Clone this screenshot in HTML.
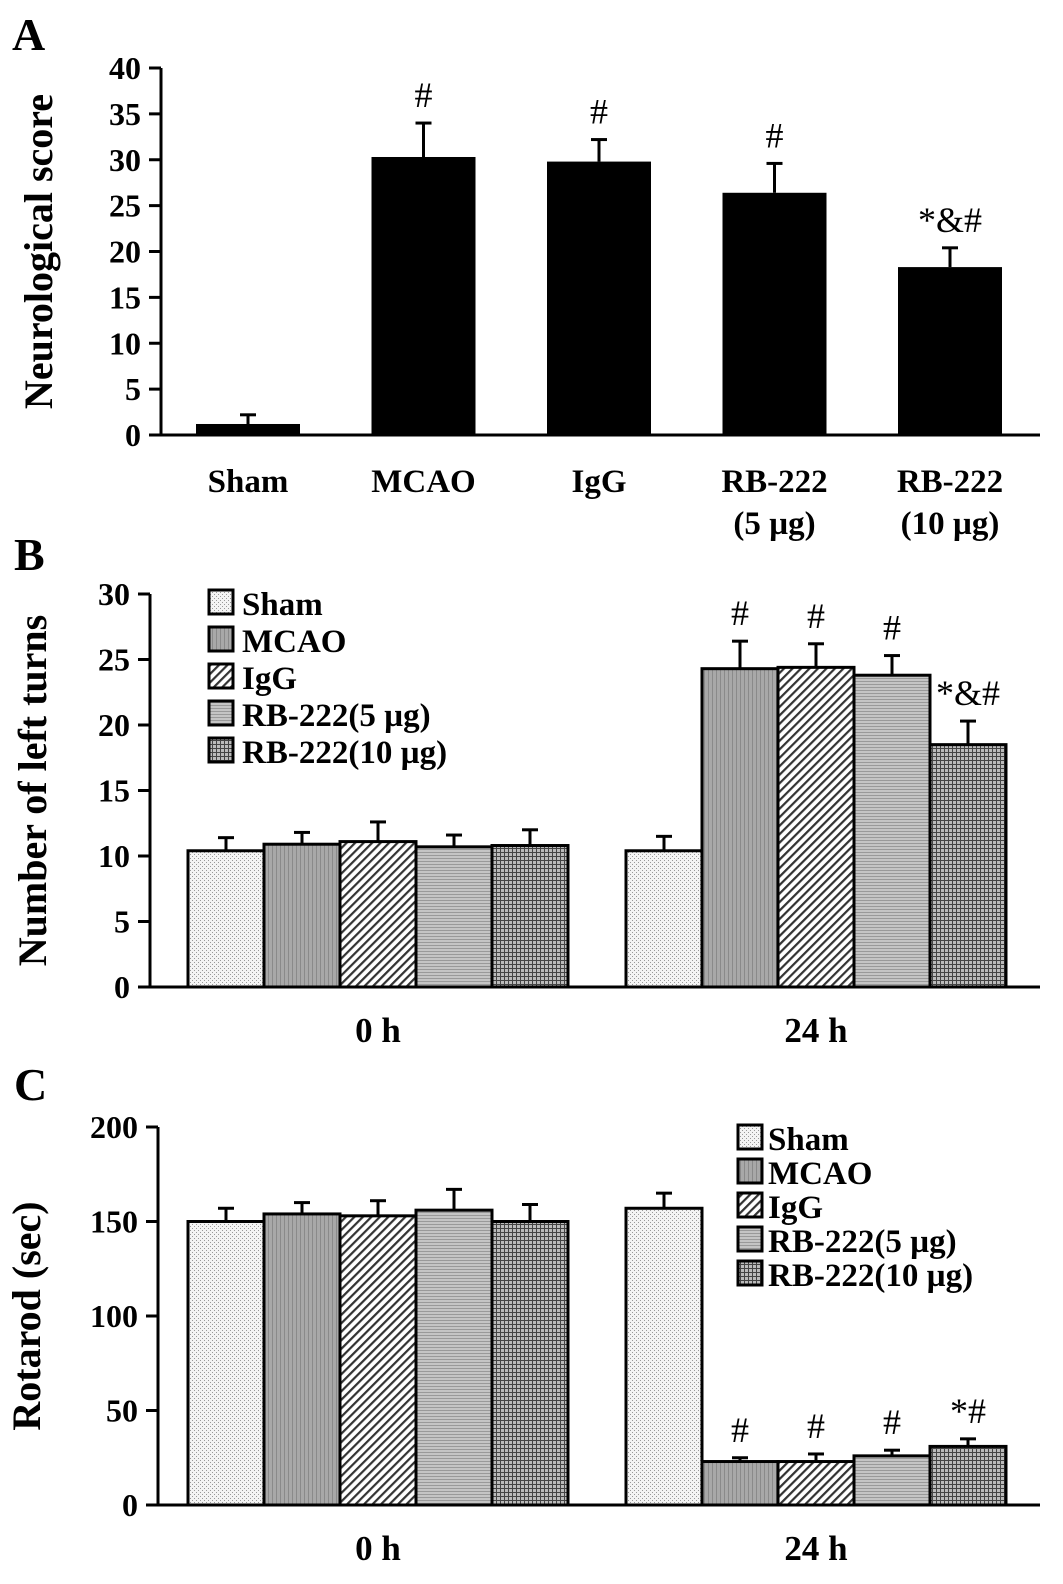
<!DOCTYPE html>
<html><head><meta charset="utf-8"><style>
html,body{margin:0;padding:0;background:#fff;}
svg{display:block;font-family:"Liberation Serif",serif;font-weight:bold;}
</style></head><body>
<svg id="fig" width="1063" height="1584" viewBox="0 0 1063 1584" xmlns="http://www.w3.org/2000/svg">
<defs>
<pattern id="pSham" width="4" height="4" patternUnits="userSpaceOnUse"><rect width="4" height="4" fill="#f4f4f4"/><rect x="0" y="0" width="1" height="1" fill="#999"/><rect x="2" y="2" width="1" height="1" fill="#999"/></pattern>
<pattern id="pMcao" width="4" height="4" patternUnits="userSpaceOnUse"><rect width="4" height="4" fill="#a8a8a8"/><rect x="0" y="0" width="1" height="4" fill="#8a8a8a"/></pattern>
<pattern id="pIgg" width="6" height="6" patternUnits="userSpaceOnUse" patternTransform="rotate(45)"><rect width="6" height="6" fill="#fff"/><rect x="0" y="0" width="2.2" height="6" fill="#333"/></pattern>
<pattern id="pRb5" width="4" height="3" patternUnits="userSpaceOnUse"><rect width="4" height="3" fill="#c4c4c4"/><rect x="0" y="0" width="4" height="1" fill="#999"/></pattern>
<pattern id="pRb10" width="4" height="4" patternUnits="userSpaceOnUse"><rect width="4" height="4" fill="#bbb"/><rect x="0" y="0" width="4" height="1" fill="#444"/><rect x="0" y="0" width="1" height="4" fill="#444"/></pattern>
</defs>
<g id="root"></g>
</svg>
<script>
// Panel A data
const catsA = ["Sham","MCAO","IgG","RB-222|(5 µg)","RB-222|(10 µg)"];
const valsA = [1.2, 30.3, 29.8, 26.4, 18.3];
const errA = [1.0, 3.7, 2.4, 3.2, 2.1];
const sigA = ["", "#", "#", "#", "*&#"];
const ticksA = [0,5,10,15,20,25,30,35,40];
// Panel B data
const groupsB = ["0 h","24 h"];
const seriesNames = ["Sham","MCAO","IgG","RB-222(5 µg)","RB-222(10 µg)"];
const valsB0 = [10.4, 10.9, 11.1, 10.7, 10.8];
const errB0 = [1.0, 0.9, 1.5, 0.9, 1.2];
const valsB24 = [10.4, 24.3, 24.4, 23.8, 18.5];
const errB24 = [1.1, 2.1, 1.8, 1.5, 1.8];
const sigB24 = ["", "#", "#", "#", "*&#"];
const ticksB = [0,5,10,15,20,25,30];
// Panel C data
const valsC0 = [150, 154, 153, 156, 150];
const errC0 = [7, 6, 8, 11, 9];
const valsC24 = [157, 23, 23, 26, 31];
const errC24 = [8, 2, 4, 3, 4];
const sigC24 = ["", "#", "#", "#", "*#"];
const ticksC = [0,50,100,150,200];

const NS="http://www.w3.org/2000/svg";
const root=document.getElementById('root');
const fills=["url(#pSham)","url(#pMcao)","url(#pIgg)","url(#pRb5)","url(#pRb10)"];
function mk(tag,attrs,parent,text){const e=document.createElementNS(NS,tag);for(const k in attrs)e.setAttribute(k,attrs[k]);if(text!==undefined)e.textContent=text;(parent||root).appendChild(e);return e;}
function line(x1,y1,x2,y2,w){return mk('line',{x1,y1,x2,y2,stroke:'#000','stroke-width':w||3});}

function axis(x0,y0,y1,xEnd,ticks,maxV,title,titleX,fs){
  const sy=v=>y0-(v/maxV)*(y0-y1);
  const g=mk('g',{});
  
  
  mk('line',{x1:x0,y1:y0,x2:x0,y2:y1,stroke:'#000','stroke-width':3},g);
  mk('line',{x1:x0-12,y1:y0,x2:xEnd,y2:y0,stroke:'#000','stroke-width':3},g);
  ticks.forEach(t=>{
    mk('line',{x1:x0-12,y1:sy(t),x2:x0,y2:sy(t),stroke:'#000','stroke-width':3},g);
    const tx=mk('text',{x:x0-20,y:sy(t)+11,'text-anchor':'end','font-size':fs||32},g,String(t));
    
    
  });
  const tt=mk('text',{x:0,y:0,'text-anchor':'middle','font-size':40,transform:`translate(${titleX},${(y0+y1)/2}) rotate(-90)`},root,title);
  
  
  return sy;
}
function bar(x,w,v,e,sy,fill,name,sig){
  const y=sy(v), ye=sy(v+e);
  line(x+w/2,y,x+w/2,ye,3);
  line(x+w/2-8,ye,x+w/2+8,ye,3);
  const r=mk('rect',{x,y,width:w,height:sy(0)-y,fill,stroke:'#000','stroke-width':3});
  
  
  if(sig){const s=mk('text',{x:x+w/2,y:ye-16,'text-anchor':'middle','font-size':36,'font-weight':'normal'},root,sig);
    
    }
}
function label(x,y,t,fs,name){const e=mk('text',{x,y,'font-size':fs},root,t);return e;}

// Panel A
label(12,50,"A",46,'panel-a-label');
const syA=axis(161,435,68,1040,ticksA,40,"Neurological score",52,32);
catsA.forEach((c,i)=>{
  const x=196+i*175.5, w=104;
  const r=mk('rect',{x,y:syA(valsA[i]),width:w,height:syA(0)-syA(valsA[i]),fill:'#000'});
  
  
  const ye=syA(valsA[i]+errA[i]);
  line(x+w/2,syA(valsA[i]),x+w/2,ye,3);line(x+w/2-8,ye,x+w/2+8,ye,3);
  if(sigA[i]){const s=mk('text',{x:x+w/2,y:ye-16,'text-anchor':'middle','font-size':36,'font-weight':'normal'},root,sigA[i]);
    
    }
  const parts=c.split('|');
  parts.forEach((p,j)=>{const t=mk('text',{x:x+w/2,y:492+j*42,'text-anchor':'middle','font-size':33},root,p);
    
    });
});

// Panel B
label(14,570,"B",46,'panel-b-label');
const syB=axis(150,987,594,1040,ticksB,30,"Number of left turns",46,32);
[[valsB0,errB0,null,188],[valsB24,errB24,sigB24,626]].forEach((d,gi)=>{
  d[0].forEach((v,i)=>{bar(d[3]+i*76,76,v,d[1][i],syB,fills[i],'bar-'+groupsB[gi].replace(' ','')+'-'+i,d[2]?d[2][i]:'');});
  const t=mk('text',{x:d[3]+190,y:1042,'text-anchor':'middle','font-size':35},root,groupsB[gi]);
  
  
});
seriesNames.forEach((n,i)=>{
  const y=590+i*37;
  const r=mk('rect',{x:209,y,width:24,height:24,fill:fills[i],stroke:'#000','stroke-width':3});
  
  
  const t=mk('text',{x:242,y:y+25,'font-size':33},root,n);
  
  
});

// Panel C
label(14,1100,"C",46,'panel-c-label');
const syC=axis(158,1505,1127,1040,ticksC,200,"Rotarod (sec)",40,32);
[[valsC0,errC0,null,188],[valsC24,errC24,sigC24,626]].forEach((d,gi)=>{
  d[0].forEach((v,i)=>{bar(d[3]+i*76,76,v,d[1][i],syC,fills[i],'bar-c-'+groupsB[gi].replace(' ','')+'-'+i,d[2]?d[2][i]:'');});
  const t=mk('text',{x:d[3]+190,y:1560,'text-anchor':'middle','font-size':35},root,groupsB[gi]);
  
  
});
seriesNames.forEach((n,i)=>{
  const y=1125+i*34;
  const r=mk('rect',{x:738,y,width:24,height:24,fill:fills[i],stroke:'#000','stroke-width':3});
  
  
  const t=mk('text',{x:768,y:y+25,'font-size':33},root,n);
  
  
});
</script>
</body></html>
